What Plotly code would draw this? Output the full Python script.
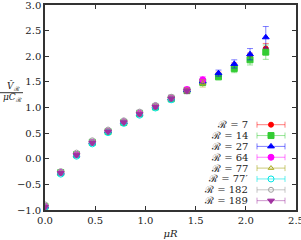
import plotly.graph_objects as go

# ---- data ----
mu_R = [0.0, 0.157, 0.314, 0.471, 0.628, 0.785, 0.942, 1.100, 1.257, 1.414, 1.571, 1.728, 1.885, 2.042, 2.199]

labels = ["ℛ = 7", "ℛ = 14", "ℛ = 27", "ℛ = 64", "ℛ = 77", "ℛ = 77′", "ℛ = 182", "ℛ = 189"]

v7 = [-0.93, -0.27, 0.08, 0.32, 0.54, 0.72, 0.88, 1.02, 1.18, 1.34, 1.50, 1.63, 1.80, 1.98, 2.15]
e7 = [0.02, 0.02, 0.02, 0.02, 0.02, 0.02, 0.03, 0.03, 0.04, 0.05, 0.05, 0.06, 0.07, 0.08, 0.10]
v14 = [-0.93, -0.27, 0.08, 0.32, 0.53, 0.71, 0.88, 1.01, 1.17, 1.33, 1.49, 1.60, 1.76, 1.93, 2.08]
e14 = [0.02, 0.02, 0.02, 0.02, 0.02, 0.02, 0.03, 0.03, 0.04, 0.05, 0.05, 0.06, 0.08, 0.10, 0.14]
v27 = [-0.93, -0.27, 0.08, 0.32, 0.54, 0.72, 0.88, 1.02, 1.18, 1.34, 1.51, 1.67, 1.85, 2.04, 2.37]
e27 = [0.02, 0.02, 0.02, 0.02, 0.02, 0.02, 0.03, 0.03, 0.04, 0.05, 0.05, 0.06, 0.08, 0.11, 0.21]
v64 = [-0.93, -0.27, 0.08, 0.32, 0.54, 0.72, 0.89, 1.03, 1.19, 1.35, 1.54]
e64 = [0.02, 0.02, 0.02, 0.02, 0.02, 0.02, 0.03, 0.03, 0.04, 0.05, 0.06]
v77 = [-0.93, -0.27, 0.08, 0.32, 0.54, 0.72, 0.88, 1.02, 1.18, 1.33, 1.47]
e77 = [0.02, 0.02, 0.02, 0.02, 0.02, 0.02, 0.03, 0.03, 0.04, 0.05, 0.07]
v77p = [-0.96, -0.30, 0.05, 0.29, 0.51, 0.69, 0.85, 0.99, 1.15]
e77p = [0.02, 0.02, 0.02, 0.02, 0.02, 0.02, 0.03, 0.03, 0.04]
v182 = [-0.89, -0.24, 0.12, 0.36, 0.57, 0.75, 0.92, 1.05, 1.21]
e182 = [0.02, 0.02, 0.02, 0.02, 0.02, 0.02, 0.03, 0.03, 0.04]
v189 = [-0.94, -0.28, 0.07, 0.31, 0.53, 0.71, 0.87, 1.01, 1.17, 1.32]
e189 = [0.02, 0.02, 0.02, 0.02, 0.02, 0.02, 0.03, 0.03, 0.04, 0.05]

values = [v7, v14, v27, v64, v77, v77p, v182, v189]
errors = [e7, e14, e27, e64, e77, e77p, e182, e189]

# ---- styles ----
colors = ["#ff0000", "#33cc33", "#0000ff", "#ff00ff", "#aaaa22", "#00e5e5", "#a0a0a0", "#a030a0"]
err_colors = ["rgba(255,0,0,0.5)", "rgba(51,204,51,0.5)", "rgba(0,0,255,0.5)", "rgba(255,0,255,0.5)",
              "rgba(170,170,34,0.6)", "rgba(0,229,229,0.6)", "rgba(160,160,160,0.6)", "rgba(160,48,160,0.5)"]
symbols = ["circle", "square", "triangle-up", "circle", "triangle-up-open", "circle-open", "circle-open", "triangle-down"]
sizes = [5, 6, 6, 6, 5, 6, 5, 6]

FONT = "DejaVu Serif, Liberation Serif, serif"
ML, MR, MT, MB = 45, 5, 5, 30
W, H = 301, 240
PW, PH = W - ML - MR, H - MT - MB

fig = go.Figure()
for i in range(len(values)):
    n = len(values[i])
    fig.add_trace(go.Scatter(
        x=mu_R[:n], y=values[i], mode="markers",
        marker=dict(symbol=symbols[i], size=sizes[i], color=colors[i],
                    line=dict(color=colors[i], width=1)),
        error_y=dict(type="data", array=errors[i], color=err_colors[i], thickness=1, width=3),
        showlegend=False, xaxis="x", yaxis="y"))

# ---- custom legend (sample on the right of the text) ----
row_top_px, row_step_px = 124.7, 10.85
mark_px, half_px, text_px = 271, 14, 250
for i, lab in enumerate(labels):
    py = row_top_px + i * row_step_px
    yy = (H - MB - py) / PH
    xx = (mark_px - ML) / PW
    fig.add_trace(go.Scatter(
        x=[xx], y=[yy], mode="markers",
        marker=dict(symbol=symbols[i], size=sizes[i], color=colors[i],
                    line=dict(color=colors[i], width=1)),
        error_x=dict(type="constant", value=half_px / PW, color=err_colors[i], thickness=1, width=3),
        showlegend=False, xaxis="x2", yaxis="y2", hoverinfo="skip"))
    fig.add_annotation(x=(text_px - ML) / PW, y=yy, xref="x2", yref="y2", text=lab,
                       showarrow=False, xanchor="right", yanchor="middle",
                       font=dict(family=FONT, size=10, color="#222"))

# y-axis title as a fraction
fig.add_annotation(x=-32 / PW, y=(H - MB - 86) / PH, xref="paper", yref="paper",
                   text="<i>V̂</i><sub>ℛ</sub>", showarrow=False, xanchor="center", yanchor="middle",
                   font=dict(family=FONT, size=9, color="#222"))
fig.add_annotation(x=-33 / PW, y=(H - MB - 98) / PH, xref="paper", yref="paper",
                   text="<i>μC</i><sub>ℛ</sub>", showarrow=False, xanchor="center", yanchor="middle",
                   font=dict(family=FONT, size=9, color="#222"))
fig.add_shape(type="line", xref="paper", yref="paper",
              x0=-45 / PW, x1=-22 / PW, y0=(H - MB - 92.7) / PH, y1=(H - MB - 92.7) / PH,
              line=dict(color="#333", width=1))

axis_common = dict(showline=True, linecolor="#333", linewidth=1.5, mirror="ticks",
                   ticks="inside", ticklen=4, tickcolor="#333", tickwidth=1,
                   showgrid=False, zeroline=False, ticklabeloverflow="allow",
                   tickfont=dict(family=FONT, size=10, color="#222"))

fig.update_layout(
    width=W, height=H,
    margin=dict(l=ML, r=MR, t=MT, b=MB, autoexpand=False),
    plot_bgcolor="white", paper_bgcolor="white",
    xaxis=dict(range=[0, 2.5], dtick=0.5, tickformat=".1f",
               title=dict(text="<i>μR</i>", font=dict(family=FONT, size=10, color="#222"), standoff=5),
               **axis_common),
    yaxis=dict(range=[-1, 3], dtick=0.5, tickformat=".1f", **axis_common),
    xaxis2=dict(range=[0, 1], overlaying="x", visible=False, fixedrange=True),
    yaxis2=dict(range=[0, 1], overlaying="y", visible=False, fixedrange=True),
    showlegend=False,
)

fig.write_html("out.html", config={"displayModeBar": False},
               post_script="document.body.style.margin='0px';")
